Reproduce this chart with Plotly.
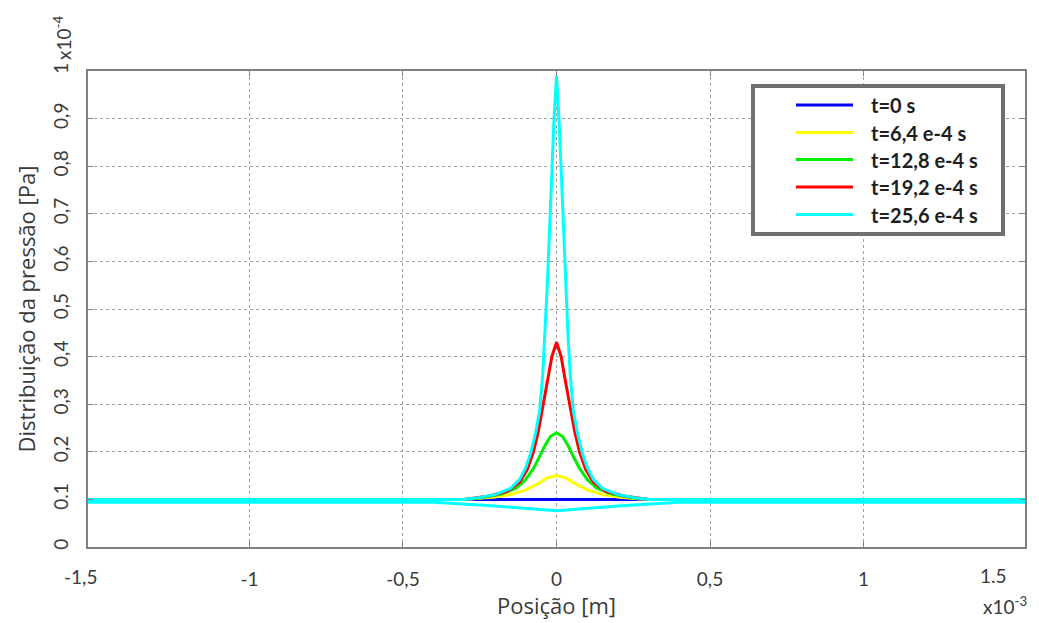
import plotly.graph_objects as go

# x in units of 1e-3 m, y in units of 1e-4 Pa
x_ticks = [-1.0, -0.5, 0.0, 0.5, 1.0]
x_ticktext = ["-1", "-0,5", "0", "0,5", "1"]
y_ticks = [0, 0.1, 0.2, 0.3, 0.4, 0.5, 0.6, 0.7, 0.8, 0.9, 1.0]
y_ticktext = ["0", "0.1", "0,2", "0,3", "0,4", "0,5", "0,6", "0,7", "0,8", "0,9", "1"]

labels = ["t=0 s", "t=6,4 e-4 s", "t=12,8 e-4 s", "t=19,2 e-4 s", "t=25,6 e-4 s"]
colors = ["#0000ff", "#ffff00", "#00ee00", "#ff0000", "#00ffff"]

# t = 0
x_t0 = [-1.55, -0.3, 0.0, 0.3, 1.55]
y_t0 = [0.1, 0.1, 0.1, 0.1, 0.1]

# right half of each symmetric profile (x >= 0)
x_y1 = [0.0, 0.03, 0.06, 0.1, 0.15, 0.2, 0.25, 0.3]
p_y1 = [0.150, 0.145, 0.133, 0.120, 0.110, 0.105, 0.102, 0.100]

x_g2 = [0.0, 0.02, 0.04, 0.055, 0.075, 0.1, 0.13, 0.18, 0.24, 0.3]
p_g2 = [0.240, 0.232, 0.210, 0.190, 0.165, 0.142, 0.124, 0.111, 0.104, 0.100]

x_r3 = [0.0, 0.015, 0.03, 0.046, 0.06, 0.075, 0.095, 0.12, 0.16, 0.22, 0.26, 0.3]
p_r3 = [0.430, 0.400, 0.345, 0.290, 0.240, 0.200, 0.163, 0.136, 0.117, 0.107, 0.103, 0.100]

x_c4 = [0.0, 0.008, 0.016, 0.023, 0.03, 0.037, 0.045, 0.055, 0.068, 0.085, 0.1, 0.12, 0.15, 0.2, 0.25, 0.3, 1.55]
p_c4 = [0.990, 0.900, 0.780, 0.660, 0.550, 0.450, 0.360, 0.285, 0.240, 0.195, 0.167, 0.142, 0.123, 0.110, 0.104, 0.100, 0.100]

# second cyan branch (dip below baseline)
x_c4b = [-1.55, -0.4, -0.2, 0.0, 0.2, 0.4, 1.55]
y_c4b = [0.094, 0.094, 0.086, 0.076, 0.086, 0.094, 0.094]


def mirror(xs, ys):
    xx = [-v for v in reversed(xs[1:])] + list(xs)
    yy = list(reversed(ys[1:])) + list(ys)
    return xx, yy


series = [
    (x_t0, y_t0),
    mirror(x_y1, p_y1),
    mirror(x_g2, p_g2),
    mirror(x_r3, p_r3),
    mirror(x_c4, p_c4),
]

fig = go.Figure()
for i, (xs, ys) in enumerate(series):
    if i == 4:
        fig.add_trace(go.Scatter(x=x_c4b, y=y_c4b, mode="lines",
                                 line=dict(color=colors[4], width=3),
                                 showlegend=False, hoverinfo="skip"))
    fig.add_trace(go.Scatter(x=xs, y=ys, mode="lines", name=labels[i],
                             line=dict(color=colors[i], width=3),
                             showlegend=False))

font_family = "Lato"
title_family = "Open Sans"
txt_color = "#3a3a3a"

# page body has an 8px offset; plot area spans pixels x 88..1025, y 71..547
OFF = 8
PL, PR, PT, PB = 88, 1025, 71, 547


def px(X):
    return (X - PL) / (PR - PL)


def py(Y):
    return (PB - Y) / (PB - PT)


shapes = []
annotations = []

# legend box (drawn as layout decoration)
shapes.append(dict(type="rect", xref="paper", yref="paper",
                   x0=px(753), x1=px(1003), y0=py(234), y1=py(86),
                   line=dict(color="#6f6f6f", width=4), fillcolor="white", layer="above"))
row_y = [105, 132.5, 159.5, 187, 214.5]
for i, lab in enumerate(labels):
    shapes.append(dict(type="line", xref="paper", yref="paper",
                       x0=px(796), x1=px(853), y0=py(row_y[i]), y1=py(row_y[i]),
                       line=dict(color=colors[i], width=3), layer="above"))
    annotations.append(dict(text=lab, xref="paper", yref="paper", x=px(869), y=py(row_y[i]),
                            xanchor="left", yanchor="middle", showarrow=False,
                            font=dict(family=font_family, size=20, color="#1e1e1e", weight="bold")))

annotations += [
    dict(text="-1,5", xref="paper", yref="paper", x=px(80), y=py(576),
         xanchor="center", yanchor="middle", showarrow=False, font=dict(size=19, color=txt_color)),
    dict(text="1.5", xref="paper", yref="paper", x=px(993), y=py(575),
         xanchor="center", yanchor="middle", showarrow=False, font=dict(size=19, color=txt_color)),
    dict(text="x10<sup>-3</sup>", xref="paper", yref="paper", x=px(1005), y=py(605),
         xanchor="center", yanchor="middle", showarrow=False, font=dict(size=19, color=txt_color)),
    dict(text="x10<sup>-4</sup>", xref="paper", yref="paper", x=px(62), y=py(38),
         xanchor="center", yanchor="middle", showarrow=False, textangle=-90,
         font=dict(size=19, color=txt_color)),
]

fig.update_layout(
    width=1039 - OFF, height=623 - OFF,
    margin=dict(l=PL - OFF, r=1039 - PR, t=PT - OFF, b=623 - PB, autoexpand=False),
    plot_bgcolor="white", paper_bgcolor="white",
    font=dict(family=font_family, color=txt_color, size=19),
    showlegend=False,
    xaxis=dict(
        range=[-1.526, 1.526], tickvals=x_ticks, ticktext=x_ticktext,
        showgrid=True, gridcolor="#a0a0a0", griddash="dot", gridwidth=1,
        zeroline=False, showline=True, linecolor="#808080", linewidth=2,
        mirror="ticks", ticks="inside", ticklen=5, tickcolor="#808080",
        tickfont=dict(size=19, color=txt_color), ticklabelstandoff=14,
        title=dict(text="Posição [m]", font=dict(family=title_family, size=22, color=txt_color), standoff=2),
        automargin=False,
    ),
    yaxis=dict(
        range=[0, 1.0], tickvals=y_ticks, ticktext=y_ticktext, tickangle=-90,
        showgrid=True, gridcolor="#a0a0a0", griddash="dot", gridwidth=1,
        zeroline=False, showline=True, linecolor="#808080", linewidth=2,
        mirror="ticks", ticks="inside", ticklen=5, tickcolor="#808080",
        tickfont=dict(size=19, color=txt_color), ticklabelstandoff=10,
        title=dict(text="Distribuição da pressão [Pa]", font=dict(family=title_family, size=22, color=txt_color), standoff=8),
        automargin=False,
    ),
    shapes=shapes,
    annotations=annotations,
)

fig.write_html("out.html")
